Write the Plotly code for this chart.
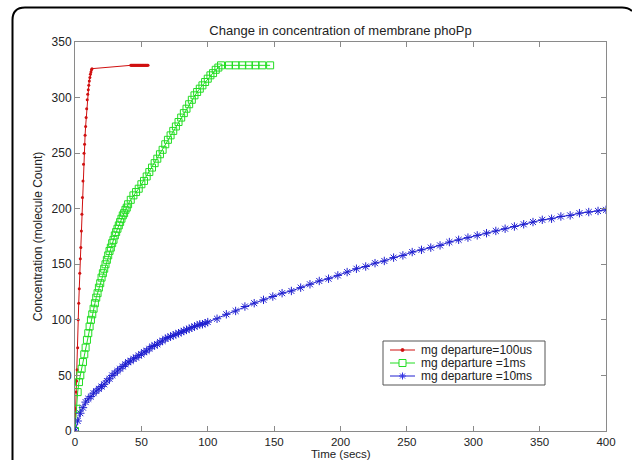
import plotly.graph_objects as go

# ---------------- data ----------------
red_t = [0, 0.4, 0.8, 1.2, 1.6, 2.0, 2.4, 2.8, 3.2, 3.6, 4.0, 4.4, 4.8, 5.2, 5.6, 6.0,
         6.4, 6.8, 7.2, 7.6, 8.0, 8.4, 8.8, 9.2, 9.6, 10.0, 10.4, 10.8, 11.2, 11.6, 12.0,
         12.4, 12.8,
         42, 42.5, 43, 43.5, 44, 44.5, 45, 45.5, 46, 46.5, 47, 47.5, 48, 48.5, 49, 49.5,
         50, 50.5, 51, 51.5, 52, 52.5, 53, 53.5, 54, 54.5, 55]
red_v = [0, 20, 35, 45, 55, 75, 100, 115, 128, 142, 155, 165, 180, 195, 210, 225,
         240, 250, 258, 266, 274, 282, 290, 298, 303, 307, 311, 315, 318, 321, 323,
         325, 326,
         329, 329, 329, 329, 329, 329, 329, 329, 329, 329, 329, 329, 329, 329, 329, 329,
         329, 329, 329, 329, 329, 329, 329, 329, 329, 329, 329]

green_t = [0, 1, 2, 3, 4, 5, 6, 7, 8, 9, 10, 11, 12, 13, 14, 15, 16, 17, 18, 19, 20,
           21, 22, 23, 24, 25, 26, 27, 28, 29, 30, 31, 32, 33, 34, 35, 36, 37, 38, 39, 40,
           42, 44, 46, 48, 50, 52, 54, 56, 58, 60, 62, 64, 66, 68, 70, 72, 74,
           76, 78, 80, 82, 84, 86, 88, 90, 92, 94, 96, 98, 100, 102, 104, 106, 108, 110,
           116, 121, 126, 131, 136, 141, 147]
green_v = [0, 20, 35, 44, 50, 56, 62, 69, 75, 82, 88, 94, 100, 105, 110, 115, 120, 124,
           129, 133, 138, 142, 146, 150, 154, 158, 162, 165, 169, 172, 176, 179, 182, 185,
           188, 191, 194, 196, 199, 201, 204,
           208, 212, 215, 218, 222, 225, 229, 233, 237, 241, 245, 249, 253, 258, 262, 266,
           270, 274, 278, 282, 286, 290, 294, 298, 302, 305, 308, 311, 314, 317, 320, 322,
           325, 327, 329,
           329, 329, 329, 329, 329, 329, 329]

blue_t = [0, 2, 4, 6, 8, 10, 12, 14, 16, 18, 20, 22, 24, 26, 28, 30, 32, 34, 36, 38, 40,
          42, 44, 46, 48, 50, 52, 54, 56, 58, 60, 62, 64, 66, 68, 70, 72, 74, 76, 78, 80,
          82, 84, 86, 88, 90, 92, 94, 96, 98, 100,
          107, 114, 121, 128, 135, 142, 149, 156, 163, 170, 177, 184, 191, 198, 205, 212,
          219, 226, 233, 240, 247, 254, 261, 268, 275, 282, 289, 296, 303, 310, 317, 324,
          331, 338, 345, 352, 359, 366, 373, 380, 387, 394, 400]
blue_v = [0, 9, 16, 21, 26, 29, 31, 34, 36, 38, 40, 42, 45, 47, 50, 52, 54, 56, 58, 60, 62,
          63, 65, 66, 68, 69, 71, 72, 74, 76, 77, 78, 80, 81, 83, 84, 85, 86, 87, 88, 89,
          90, 91, 92, 93, 94, 95, 96, 96, 97, 98,
          101, 105, 108, 112, 115, 118, 121, 124, 126, 129, 132, 135, 137, 140, 143, 146,
          148, 151, 153, 156, 158, 161, 163, 165, 167, 170, 172, 174, 176, 178, 180, 182,
          184, 186, 188, 190, 191, 193, 194, 196, 197, 198, 199]

series_names = ["mg departure=100us", "mg departure =1ms", "mg departure =10ms"]
series_colors = ["#d01010", "#22dd22", "#2020d0"]
x_ticks = [0, 50, 100, 150, 200, 250, 300, 350, 400]
y_ticks = [0, 50, 100, 150, 200, 250, 300, 350]

# ---------------- figure ----------------
W, H = 632, 460
L, R, T, B = 75, 606, 42, 431
FONT = "Liberation Sans, Arial, sans-serif"
TXT = "#222222"

fig = go.Figure()
fig.add_trace(go.Scatter(x=red_t, y=red_v, mode="lines+markers", name=series_names[0],
                         line=dict(color=series_colors[0], width=1),
                         marker=dict(symbol="circle", size=3, color=series_colors[0])))
fig.add_trace(go.Scatter(x=green_t, y=green_v, mode="lines+markers", name=series_names[1],
                         line=dict(color=series_colors[1], width=1),
                         marker=dict(symbol="square-open", size=7, color=series_colors[1],
                                     line=dict(width=1, color=series_colors[1]))))
fig.add_trace(go.Scatter(x=blue_t, y=blue_v, mode="lines+markers", name=series_names[2],
                         line=dict(color=series_colors[2], width=1),
                         marker=dict(symbol="asterisk-open", size=7,
                                     line=dict(width=1, color="#3535e5"))))


def px(xp):
    return (xp - L) / (R - L)


def py(yp):
    return (B - yp) / (B - T)


shapes = []
annotations = []

# outer rounded frame (decorative)
path = (f"M {px(12.5)},{py(462)} L {px(12.5)},{py(20)} "
        f"Q {px(12.5)},{py(7.5)} {px(25)},{py(7.5)} "
        f"L {px(622)},{py(7.5)} Q {px(628)},{py(7.5)} {px(632)},{py(11)}")
shapes.append(dict(type="path", path=path, xref="paper", yref="paper",
                   line=dict(color="black", width=2)))

# compact MATLAB-style legend box
lg_x0, lg_x1, lg_y0, lg_y1 = 383, 545, 341, 385
shapes.append(dict(type="rect", xref="paper", yref="paper",
                   x0=px(lg_x0), x1=px(lg_x1), y0=py(lg_y1), y1=py(lg_y0),
                   line=dict(color="#555555", width=1), fillcolor="white"))
row_y = [350, 363, 376]
for i, (name, col) in enumerate(zip(series_names, series_colors)):
    yy = row_y[i]
    shapes.append(dict(type="line", xref="paper", yref="paper",
                       x0=px(390), x1=px(415), y0=py(yy), y1=py(yy),
                       line=dict(color=col, width=1)))
    cx = 402.5
    if i == 0:
        shapes.append(dict(type="circle", xref="paper", yref="paper",
                           x0=px(cx - 1.5), x1=px(cx + 1.5), y0=py(yy + 1.5), y1=py(yy - 1.5),
                           line=dict(color=col, width=1), fillcolor=col))
    elif i == 1:
        shapes.append(dict(type="rect", xref="paper", yref="paper",
                           x0=px(cx - 3.5), x1=px(cx + 3.5), y0=py(yy + 3.5), y1=py(yy - 3.5),
                           line=dict(color=col, width=1), fillcolor="white"))
    else:
        s = 3.5
        ap = (f"M {px(cx - s)},{py(yy)} L {px(cx + s)},{py(yy)} "
              f"M {px(cx)},{py(yy - s)} L {px(cx)},{py(yy + s)} "
              f"M {px(cx - 2.5)},{py(yy - 2.5)} L {px(cx + 2.5)},{py(yy + 2.5)} "
              f"M {px(cx - 2.5)},{py(yy + 2.5)} L {px(cx + 2.5)},{py(yy - 2.5)}")
        shapes.append(dict(type="path", xref="paper", yref="paper", path=ap,
                           line=dict(color="#3535e5", width=1)))
    annotations.append(dict(text=name, xref="paper", yref="paper", x=px(419), y=py(yy),
                            xanchor="left", yanchor="middle", showarrow=False,
                            font=dict(family=FONT, size=12, color=TXT)))

# x-axis title placed just under the tick labels
annotations.append(dict(text="Time (secs)", xref="paper", yref="paper", x=0.5, y=py(453.5),
                        xanchor="center", yanchor="middle", showarrow=False, borderpad=0,
                        font=dict(family=FONT, size=11.5, color=TXT)))

axis_common = dict(showgrid=False, zeroline=False, showline=True, linecolor="#8a8a8a",
                   linewidth=1, mirror="ticks", ticks="inside", ticklen=5,
                   tickcolor="#8a8a8a")

fig.update_xaxes(range=[0, 400], tickvals=x_ticks, automargin=False,
                 tickfont=dict(family=FONT, size=11.5, color=TXT),
                 **axis_common)
fig.update_yaxes(range=[0, 350], tickvals=y_ticks, automargin=False,
                 tickfont=dict(family=FONT, size=12, color=TXT),
                 title=dict(text="Concentration (molecule Count)", standoff=6,
                            font=dict(family=FONT, size=12, color=TXT)),
                 **axis_common)

fig.update_layout(
    width=W, height=H,
    margin=dict(l=L, r=W - R, t=T, b=H - B, pad=0),
    paper_bgcolor="white", plot_bgcolor="white",
    font=dict(family=FONT, size=12, color=TXT),
    title=dict(text="Change in concentration of membrane phoPp", x=340.5 / W,
               xanchor="center", y=(H - 30) / H, yanchor="middle",
               font=dict(family=FONT, size=13, color=TXT)),
    showlegend=False,
    shapes=shapes,
    annotations=annotations,
)

fig.write_html("out.html", config={"displayModeBar": False},
               post_script="document.body.style.margin='0';document.body.style.overflow='hidden';")
